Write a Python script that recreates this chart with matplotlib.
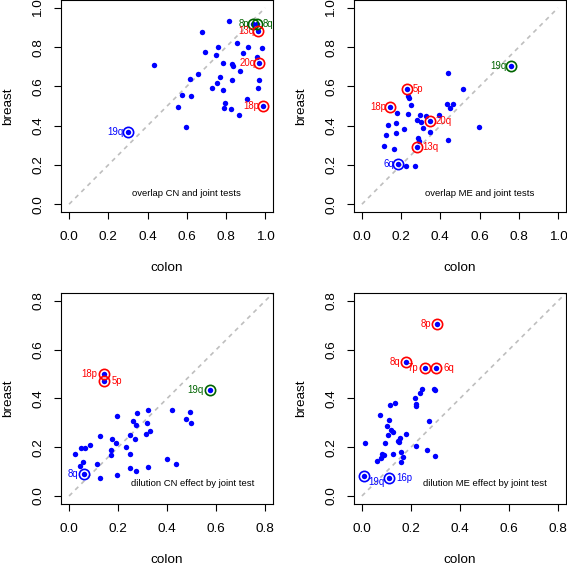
import matplotlib
matplotlib.use('Agg')
import matplotlib.pyplot as plt

plt.rcParams['font.family'] = ['Liberation Sans', 'DejaVu Sans']

# panel 1: overlap CN and joint tests
p1_x = [0.818, 0.680, 0.434, 0.855, 0.759, 0.910, 0.983, 0.692, 0.747, 0.886,
        0.957, 0.786, 0.832, 0.837, 0.872, 0.655, 0.617, 0.769, 0.830, 0.753,
        0.969, 0.728, 0.786, 0.961, 0.575, 0.624, 0.905, 0.554, 0.793, 0.791,
        0.825, 0.869, 0.595]
p1_y = [0.934, 0.878, 0.707, 0.823, 0.799, 0.799, 0.798, 0.777, 0.760, 0.772,
        0.748, 0.718, 0.716, 0.704, 0.680, 0.663, 0.636, 0.646, 0.634, 0.619,
        0.631, 0.594, 0.582, 0.594, 0.554, 0.549, 0.534, 0.493, 0.514, 0.488,
        0.485, 0.452, 0.395]
p1_lab = ['8p', '8q', '13q', '20q', '18p', '19q']
p1_lx = [0.937, 0.957, 0.964, 0.971, 0.991, 0.299]
p1_ly = [0.917, 0.917, 0.881, 0.721, 0.498, 0.366]
p1_col = ['darkgreen', 'darkgreen', 'red', 'red', 'red', 'blue']
p1_side = ['left', 'right', 'left', 'left', 'left', 'left']

# panel 2: overlap ME and joint tests
p2_x = [0.437, 0.515, 0.234, 0.242, 0.251, 0.434, 0.466, 0.449, 0.178, 0.234,
        0.297, 0.327, 0.392, 0.280, 0.302, 0.132, 0.173, 0.312, 0.215, 0.598,
        0.346, 0.125, 0.176, 0.285, 0.290, 0.437, 0.112, 0.161, 0.225, 0.273]
p2_y = [0.667, 0.588, 0.553, 0.539, 0.505, 0.512, 0.512, 0.488, 0.463, 0.461,
        0.456, 0.451, 0.456, 0.429, 0.418, 0.403, 0.415, 0.388, 0.381, 0.391,
        0.367, 0.352, 0.364, 0.338, 0.323, 0.325, 0.298, 0.282, 0.196, 0.197]
p2_lab = ['5p', '18p', '20q', '13q', '6q', '19q']
p2_lx = [0.229, 0.142, 0.349, 0.280, 0.183, 0.759]
p2_ly = [0.588, 0.497, 0.422, 0.293, 0.207, 0.706]
p2_col = ['red', 'red', 'red', 'red', 'blue', 'darkgreen']
p2_side = ['right', 'left', 'right', 'right', 'left', 'left']

# panel 3: dilution CN effect by joint test
p3_x = [0.320, 0.420, 0.493, 0.277, 0.194, 0.262, 0.477, 0.499, 0.317, 0.271,
        0.331, 0.315, 0.249, 0.127, 0.174, 0.268, 0.192, 0.085, 0.048, 0.063,
        0.232, 0.169, 0.026, 0.169, 0.248, 0.401, 0.055, 0.113, 0.436, 0.046,
        0.249, 0.324, 0.274, 0.195, 0.127]
p3_y = [0.352, 0.352, 0.343, 0.342, 0.329, 0.309, 0.317, 0.299, 0.299, 0.290,
        0.268, 0.254, 0.252, 0.245, 0.235, 0.234, 0.219, 0.211, 0.195, 0.195,
        0.201, 0.189, 0.173, 0.169, 0.173, 0.151, 0.140, 0.132, 0.132, 0.124,
        0.114, 0.117, 0.101, 0.088, 0.075]
p3_lab = ['18p', '5p', '19q', '8q']
p3_lx = [0.142, 0.142, 0.575, 0.061]
p3_ly = [0.501, 0.473, 0.435, 0.090]
p3_col = ['red', 'red', 'darkgreen', 'blue']
p3_side = ['left', 'right', 'left', 'left']

# panel 4: dilution ME effect by joint test
p4_x = [0.246, 0.238, 0.294, 0.298, 0.215, 0.220, 0.219, 0.136, 0.114, 0.072,
        0.110, 0.272, 0.101, 0.120, 0.128, 0.178, 0.106, 0.156, 0.148, 0.152,
        0.011, 0.093, 0.220, 0.264, 0.125, 0.161, 0.082, 0.091, 0.299, 0.076,
        0.166, 0.060, 0.161]
p4_y = [0.437, 0.423, 0.437, 0.434, 0.403, 0.376, 0.369, 0.382, 0.374, 0.332,
        0.313, 0.307, 0.288, 0.269, 0.263, 0.254, 0.249, 0.239, 0.226, 0.222,
        0.218, 0.216, 0.203, 0.190, 0.174, 0.180, 0.173, 0.167, 0.166, 0.156,
        0.158, 0.143, 0.141]
p4_lab = ['8p', '8q', '7p', '6q', '19q', '16p']
p4_lx = [0.306, 0.180, 0.256, 0.302, 0.008, 0.110]
p4_ly = [0.706, 0.551, 0.525, 0.525, 0.083, 0.075]
p4_col = ['red', 'red', 'red', 'red', 'blue', 'blue']
p4_side = ['left', 'left', 'left', 'right', 'below', 'right']

panels = [
    (p1_x, p1_y, p1_lab, p1_lx, p1_ly, p1_col, p1_side, 'overlap CN and joint tests'),
    (p2_x, p2_y, p2_lab, p2_lx, p2_ly, p2_col, p2_side, 'overlap ME and joint tests'),
    (p3_x, p3_y, p3_lab, p3_lx, p3_ly, p3_col, p3_side, 'dilution CN effect by joint test'),
    (p4_x, p4_y, p4_lab, p4_lx, p4_ly, p4_col, p4_side, 'dilution ME effect by joint test'),
]

fig = plt.figure(figsize=(5.67, 5.67), dpi=100)
boxes = [[0.108, 0.626, 0.3735, 0.374], [0.6245, 0.626, 0.3735, 0.374],
         [0.108, 0.1115, 0.3735, 0.3715], [0.6245, 0.1115, 0.3735, 0.3715]]
note_pos = [(0.600, 0.054), (0.598, 0.054), (0.503, 0.053), (0.502, 0.053)]

for i, (px, py, lab, lx, ly, col, side, note) in enumerate(panels):
    ax = fig.add_axes(boxes[i])
    top = i < 2
    hi = 1.0 if top else 0.8
    ax.set_xlim(-0.04 * hi, 1.04 * hi)
    ax.set_ylim(-0.04 * hi, 1.04 * hi)
    ticks = [0, 0.2, 0.4, 0.6, 0.8, 1.0] if top else [0, 0.2, 0.4, 0.6, 0.8]
    ax.set_xticks(ticks)
    ax.set_yticks(ticks)
    ax.set_xticklabels(['%.1f' % t for t in ticks])
    ax.set_yticklabels(['%.1f' % t for t in ticks], rotation=90, va='center')
    ax.tick_params(length=5.3, width=0.8, labelsize=9.7)
    ax.tick_params(axis='x', pad=8.5)
    ax.tick_params(axis='y', pad=7)
    for s in ax.spines.values():
        s.set_linewidth(0.8)

    # 1:1 reference line
    ax.plot([0, 1], [0, 1], color='#BEBEBE', lw=1.2, ls=(0, (2.6, 2.6)), zorder=1)

    ax.plot(px, py, 'o', color='blue', ms=3.9, mew=0, zorder=3)
    ax.plot(lx, ly, 'o', color='blue', ms=3.9, mew=0, zorder=3)
    for j in range(len(lab)):
        ax.plot(lx[j], ly[j], 'o', mfc='none', mec=col[j], ms=7.4, mew=1.2, zorder=4)
        off_l, off_r = (2.8, 4.0) if top else (4.5, 5.5)
        if side[j] == 'left':
            xy, ha, va = (-off_l, 0), 'right', 'center'
        elif side[j] == 'right':
            xy, ha, va = (off_r, 0), 'left', 'center'
        else:
            xy, ha, va = (3, -4.5), 'left', 'center'
        ax.annotate(lab[j], (lx[j], ly[j]), xytext=xy, textcoords='offset points',
                    ha=ha, va=va, color=col[j], fontsize=6.9, zorder=5)

    ax.text(note_pos[i][0], note_pos[i][1], note, ha='center', va='center', fontsize=6.8)

    ax.set_xlabel('colon', fontsize=9.7, va='center')
    ax.set_ylabel('breast', fontsize=9.7, va='center')
    ax.xaxis.set_label_coords(0.5, -0.265)
    ax.yaxis.set_label_coords(-0.252, 0.5)

plt.savefig('out.png', dpi=100)
